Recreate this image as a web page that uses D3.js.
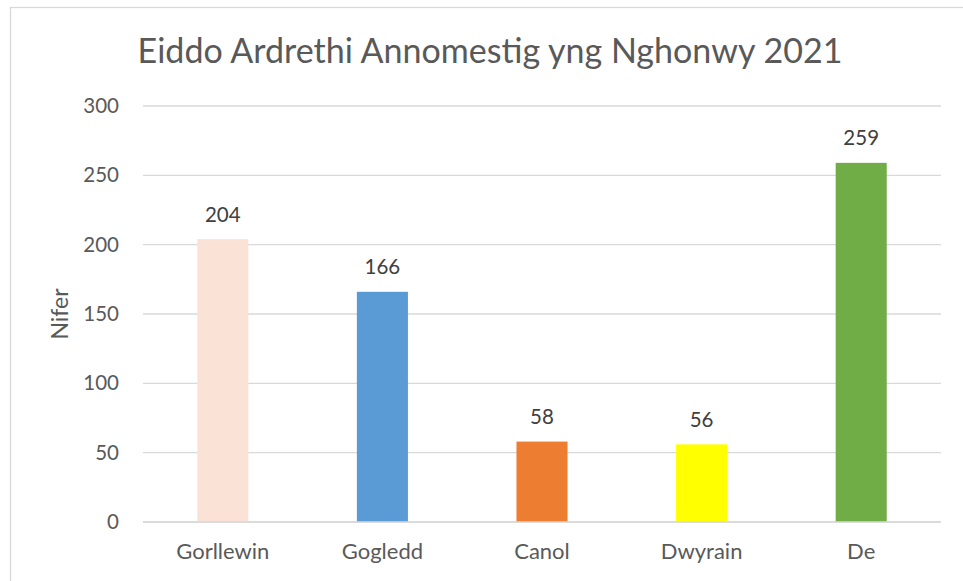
<!DOCTYPE html>
<html>
<head>
<meta charset="utf-8">
<script src="https://cdn.jsdelivr.net/npm/d3@7/dist/d3.min.js"></script>
<style>
  html, body { margin: 0; padding: 0; background: #fff; }
  svg { display: block; }
  text { font-family: Lato, "Open Sans", sans-serif; }
</style>
</head>
<body>
<svg id="chart" width="963" height="581"></svg>
<script>
// Chart data
const title = "Eiddo Ardrethi Annomestig yng Nghonwy 2021";
const yTitle = "Nifer";
const regions = ["Gorllewin", "Gogledd", "Canol", "Dwyrain", "De"];
const counts = [204, 166, 58, 56, 259];
const barColors = ["#FAE3D6", "#5B9BD5", "#ED7D31", "#FFFF00", "#70AD47"];
const yTicks = [0, 50, 100, 150, 200, 250, 300];

const W = 963, H = 581;
const plot = { left: 143, right: 941, top: 106, bottom: 522 };

const svg = d3.select("#chart");

// Chart area frame
svg.append("rect")
  .attr("x", 10.5).attr("y", 7.5)
  .attr("width", W + 10).attr("height", H + 10)
  .attr("fill", "#fff")
  .attr("stroke", "#D9D9D9").attr("stroke-width", 1.3);

const x = d3.scaleBand().domain(regions).range([plot.left, plot.right]).padding(0);
const y = d3.scaleLinear().domain([0, 300]).range([plot.bottom, plot.top]);
const barW = x.step() * 0.32;

// Gridlines
svg.append("g")
  .selectAll("line")
  .data(yTicks)
  .join("line")
  .attr("x1", plot.left).attr("x2", plot.right)
  .attr("y1", d => y(d)).attr("y2", d => y(d))
  .attr("stroke", "#D9D9D9").attr("stroke-width", 1.3);

// Y axis labels
const yAxis = svg.append("g")
  .attr("transform", `translate(${plot.left - 24},0)`)
  .call(d3.axisLeft(y).tickValues(yTicks).tickSize(0).tickPadding(0));
yAxis.select(".domain").remove();
yAxis.selectAll("text")
  .attr("fill", "#595959")
  .style("font-size", "20.5px")
  .style("font-family", "Lato, sans-serif");

// Bars
svg.append("g")
  .selectAll("rect")
  .data(regions)
  .join("rect")
  .attr("x", d => x(d) + x.bandwidth() / 2 - barW / 2)
  .attr("width", barW)
  .attr("y", (d, i) => y(counts[i]))
  .attr("height", (d, i) => y(0) - y(counts[i]))
  .attr("fill", (d, i) => barColors[i]);

// Baseline drawn over bars
svg.append("line")
  .attr("x1", plot.left).attr("x2", plot.right)
  .attr("y1", y(0)).attr("y2", y(0))
  .attr("stroke", "#D9D9D9").attr("stroke-width", 1.3);

// Value labels
svg.append("g")
  .selectAll("text")
  .data(regions)
  .join("text")
  .attr("x", d => x(d) + x.bandwidth() / 2)
  .attr("y", (d, i) => y(counts[i]) - 17.5)
  .attr("text-anchor", "middle")
  .attr("fill", "#404040")
  .style("font-size", "20.5px")
  .text((d, i) => counts[i]);

// X axis labels
const xAxis = svg.append("g")
  .attr("transform", `translate(0,${plot.bottom})`)
  .call(d3.axisBottom(x).tickSize(0).tickPadding(21));
xAxis.select(".domain").remove();
xAxis.selectAll("text")
  .attr("fill", "#595959")
  .style("font-size", "22px")
  .style("font-family", "Lato, sans-serif");

// Y axis title
svg.append("text")
  .attr("transform", "translate(68,314) rotate(-90)")
  .attr("text-anchor", "middle")
  .attr("fill", "#595959")
  .style("font-size", "23px")
  .text(yTitle);

// Chart title, sized to span its line
const t = svg.append("text")
  .attr("x", 490).attr("y", 63)
  .attr("text-anchor", "middle")
  .attr("fill", "#595959")
  .style("font-size", "32px")
  .text(title);
const tw = t.node().getComputedTextLength();
t.style("font-size", (32 * 705 / tw).toFixed(2) + "px");
</script>
</body>
</html>
